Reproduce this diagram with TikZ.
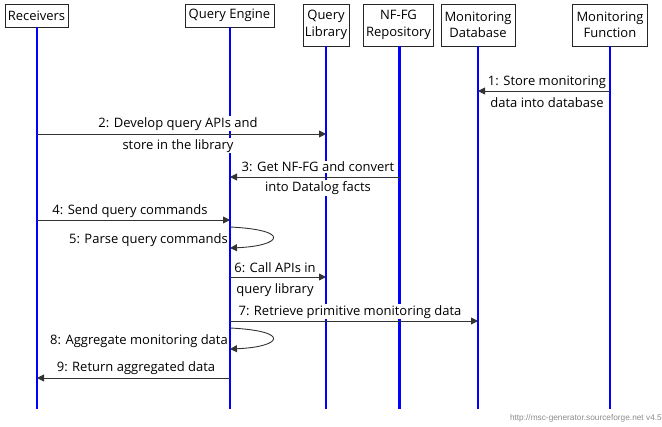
\documentclass[tikz,border=0pt]{standalone}
\usepackage{fontspec}
\setmainfont{Open Sans}
\newfontfamily\footfont{Liberation Sans}
\usetikzlibrary{arrows.meta}
\tikzset{
  ent/.style={draw=black!85, line width=0.8pt, fill=white, inner sep=0pt, align=center, font=\fontsize{13}{16.5}\selectfont},
  life/.style={draw=blue, line width=2.4pt},
  msg/.style={draw=black!80, line width=0.9pt, -{Triangle[length=7pt,width=7pt]}},
  lbl/.style={fill=white, inner sep=1pt, font=\fontsize{13}{15}\selectfont},
}
\begin{document}
\begin{tikzpicture}[x=1pt,y=-1pt]
\useasboundingbox (0,0) rectangle (662,427);
% entity boxes
\node[ent, minimum width=63pt, minimum height=23pt] (rec) at (36.5,15.5) {Receivers};
\node[ent, minimum width=89pt, minimum height=23pt] (qe) at (229.5,15.5) {Query Engine};
\node[ent, minimum width=46pt, minimum height=42pt] (ql) at (326,25) {Query\\Library};
\node[ent, minimum width=70pt, minimum height=42pt] (nf) at (398.5,25) {NF-FG\\Repository};
\node[ent, minimum width=74pt, minimum height=42pt] (md) at (478,25) {Monitoring\\Database};
\node[ent, minimum width=75pt, minimum height=42pt] (mf) at (610,25) {Monitoring\\Function};
% lifeline ends
\coordinate (recE) at (37,409);
\coordinate (qeE) at (230,409);
\coordinate (qlE) at (326,409);
\coordinate (nfE) at (399.5,409);
\coordinate (mdE) at (478,409);
\coordinate (mfE) at (610,409);
\draw[life] (rec.south -| recE) -- (recE);
\draw[life] (qe.south -| qeE) -- (qeE);
\draw[life] (ql.south -| qlE) -- (qlE);
\draw[life] (nf.south -| nfE) -- (nfE);
\draw[life] (md.south -| mdE) -- (mdE);
\draw[life] (mf.south -| mfE) -- (mfE);
% labels
\node[lbl] (l1a) at (547,82) {1: Store monitoring};
\node[lbl] (l1b) at (547,103) {data into database};
\node[lbl] (l2a) at (178,124) {2: Develop query APIs and};
\node[lbl] (l2b) at (178,146) {store in the library};
\node[lbl] (l3a) at (318,167) {3: Get NF-FG and convert};
\node[lbl] (l3b) at (318,188) {into Datalog facts};
\node[lbl] (l4) at (130,211) {4: Send query commands};
\node[lbl, anchor=east] (l5) at (229,240) {5: Parse query commands};
\node[lbl] (l6a) at (275,268) {6: Call APIs in};
\node[lbl] (l6b) at (275,290) {query library};
\node[lbl] (l7) at (350,312) {7: Retrieve primitive monitoring data};
\node[lbl, anchor=east] (l8) at (229,341) {8: Aggregate monitoring data};
\node[lbl] (l9) at (136,368) {9: Return aggregated data};
% messages
\draw[msg] (mfE |- 0,91) -- (mdE |- 0,91);
\draw[msg] (recE |- 0,134) -- (qlE |- 0,134);
\draw[msg] (nfE |- 0,177) -- (qeE |- 0,177);
\draw[msg] (recE |- 0,220) -- (qeE |- 0,220);
\draw[msg] (qeE |- 0,227) .. controls (292,230) and (282,246) .. (qeE |- 0,248);
\draw[msg] (qeE |- 0,277) -- (qlE |- 0,277);
\draw[msg] (qeE |- 0,321) -- (mdE |- 0,321);
\draw[msg] (qeE |- 0,328) .. controls (292,331) and (282,347) .. (qeE |- 0,349);
\draw[msg] (qeE |- 0,378) -- (recE |- 0,378);
% footer
\node[anchor=east, inner sep=0pt, text=black!45, font=\footfont\fontsize{8.3}{10}\selectfont] (foot) at (662,418) {http://msc-generator.sourceforge.net v4.5};
\end{tikzpicture}
\end{document}
